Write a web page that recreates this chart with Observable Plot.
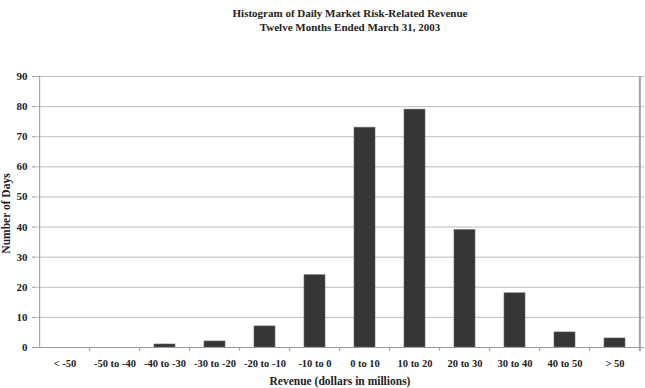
<!DOCTYPE html>
<html>
<head>
<meta charset="utf-8">
<script src="https://cdn.jsdelivr.net/npm/d3@7"></script>
<script src="https://cdn.jsdelivr.net/npm/@observablehq/plot@0.6"></script>
<style>
  body { margin: 0; background: #fff; }
  #c { position: relative; width: 645px; height: 388px; font-family: "Liberation Serif", "DejaVu Serif", serif; color: #222; }
  #title { position: absolute; left: 0; top: 6px; width: 700px; text-align: center; font-weight: bold; font-size: 11px; line-height: 14px; }
  svg { position: absolute; left: 0; top: 0; }
</style>
</head>
<body>
<div id="c">
  <div id="title">Histogram of Daily Market Risk-Related Revenue<br>Twelve Months Ended March 31, 2003</div>
</div>
<script>
const categories = ["< -50", "-50 to -40", "-40 to -30", "-30 to -20", "-20 to -10", "-10 to 0", "0 to 10", "10 to 20", "20 to 30", "30 to 40", "40 to 50", "> 50"];
const days = [0, 0, 1, 2, 7, 24, 73, 79, 39, 18, 5, 3];
const yTicks = [0, 10, 20, 30, 40, 50, 60, 70, 80, 90];
const yTitle = "Number of Days";
const xTitle = "Revenue (dollars in millions)";

const data = categories.map((c, i) => ({ bin: c, days: days[i] }));

const W = 645, H = 388, ML = 35, MR = 1, MT = 76, MB = 41;
const step = (W - ML - MR) / categories.length;

const chart = Plot.plot({
  width: W,
  height: H,
  marginLeft: ML,
  marginRight: MR,
  marginTop: MT,
  marginBottom: MB,
  style: { fontFamily: "'Liberation Serif', serif", fontWeight: "bold", fontSize: "10.5px", color: "#222", background: "transparent" },
  x: { domain: categories, paddingInner: 0.59, paddingOuter: 0.295, label: null },
  y: { domain: [0, 90], label: null },
  marks: [
    Plot.gridY(yTicks, { stroke: "#bdbdbd", strokeOpacity: 1, strokeWidth: 1 }),
    Plot.barY(data, { x: "bin", y: "days", fill: "#373535", stroke: "#6a6a6a", strokeWidth: 0.6 }),
    Plot.ruleY([0], { stroke: "#9a9a9a", strokeWidth: 1 }),
    Plot.ruleX(categories.slice(1), { x: d => d, dx: -step / 2, y1: 0, y2: -1.3, stroke: "#9a9a9a" }),
    Plot.ruleX([categories[0]], { x: d => d, dx: -step / 2, y1: 0, y2: 90, stroke: "#9a9a9a" }),
    Plot.ruleX([categories[categories.length - 1]], { x: d => d, dx: step / 2 - 0.5, y1: -1.3, y2: 90, stroke: "#a0a4a8", strokeWidth: 2 }),
    Plot.axisY(yTicks, { tickSize: 3, tickPadding: 5, stroke: "#9a9a9a", fill: "#222", label: null, fontSize: 11 }),
    Plot.text([yTitle], { frameAnchor: "left", textAnchor: "middle", lineAnchor: "middle", dx: -29, dy: 1.5, rotate: -90, fontSize: 11.5, fontWeight: "bold", fill: "#222" }),
    Plot.axisX({ tickSize: 0, tickPadding: 12, fill: "#222", label: null, fontSize: 10.5 }),
    Plot.text([xTitle], { frameAnchor: "bottom", lineAnchor: "middle", dy: 34, fontSize: 11.5, fontWeight: "bold", fill: "#222" })
  ]
});
document.getElementById("c").appendChild(chart);
</script>
</body>
</html>
